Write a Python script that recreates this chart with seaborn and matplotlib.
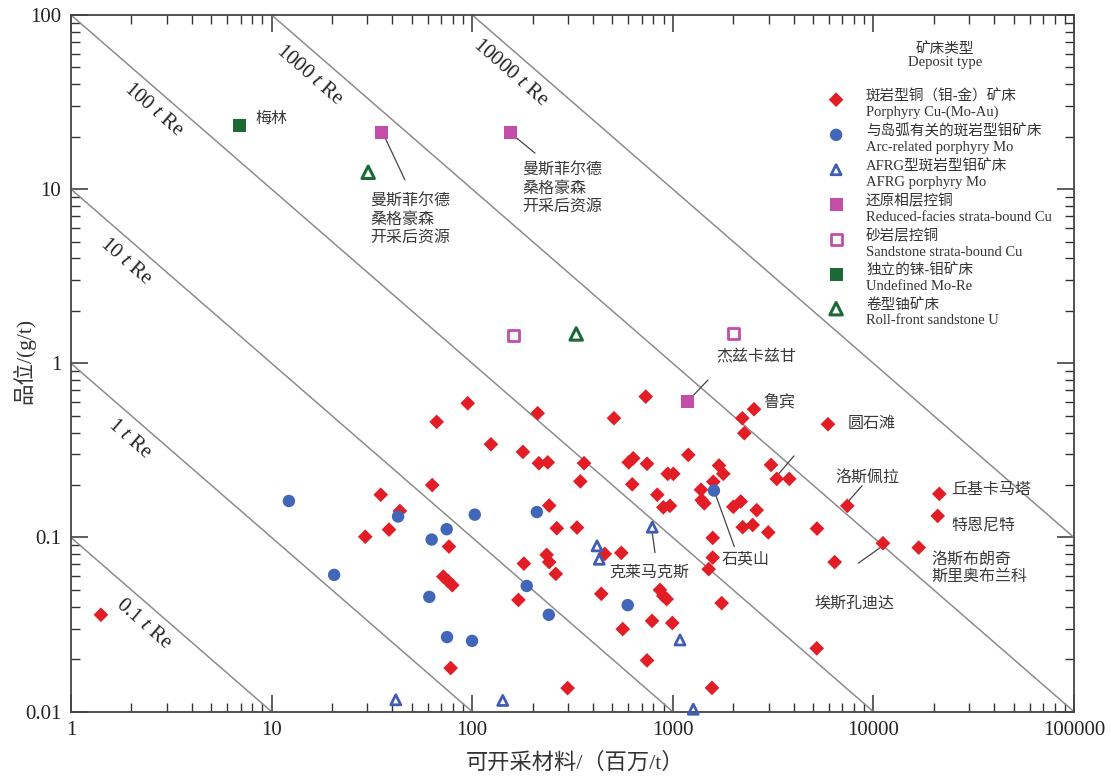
import numpy as np
import matplotlib
matplotlib.use("Agg")
import matplotlib.pyplot as plt
import matplotlib.ticker as mticker
import seaborn as sns

# ---------------- data (ore in Mt, grade in g/t Re) ----------------
cu_ore = [1.41, 66.5, 63.2, 35.0, 43.6, 38.5, 29.3, 76.6, 71.8, 75.7, 79.6, 78.1,
          95.0, 212, 509, 733, 2540, 2221, 2273, 124, 179, 215, 238, 361, 346,
          603, 635, 744, 1195, 628, 943, 1006, 1700, 1785, 1592, 3088, 3297, 3807,
          837, 897, 968, 1382, 1393, 1436, 2003, 2181, 2620, 2231, 2502, 2993,
          1581, 1581, 1510, 242, 264, 333, 458, 554, 181, 235, 242, 261, 170,
          440, 863, 897, 932, 563, 788, 994, 1753, 744, 299, 1568, 5938, 7413,
          21310, 20920, 5235, 11160, 16820, 6412, 5217]
cu_grade = [0.036, 0.461, 0.200, 0.176, 0.142, 0.111, 0.101, 0.0887, 0.0596, 0.0563, 0.0532, 0.0178,
            0.590, 0.517, 0.484, 0.644, 0.545, 0.484, 0.397, 0.343, 0.310, 0.267, 0.270, 0.267, 0.210,
            0.270, 0.285, 0.265, 0.298, 0.202, 0.232, 0.232, 0.259, 0.232, 0.209, 0.261, 0.217, 0.217,
            0.176, 0.149, 0.152, 0.188, 0.164, 0.157, 0.150, 0.161, 0.1435, 0.1146, 0.118, 0.107,
            0.0995, 0.0767, 0.0658, 0.1525, 0.113, 0.114, 0.0805, 0.0816, 0.0708, 0.0795, 0.0722, 0.0618, 0.0438,
            0.0475, 0.050, 0.0462, 0.0443, 0.0298, 0.0332, 0.0323, 0.0420, 0.0197, 0.01365, 0.0137, 0.447, 0.152,
            0.178, 0.133, 0.1125, 0.0927, 0.0875, 0.0722, 0.0231]

arc_ore = [12.2, 42.7, 74.6, 62.8, 20.5, 61.1, 74.9, 99.8, 103, 210, 187, 241, 596, 1604]
arc_grade = [0.162, 0.132, 0.1116, 0.0973, 0.061, 0.0456, 0.0268, 0.0255, 0.1353, 0.140, 0.0527, 0.036, 0.0409, 0.186]

afrg_ore = [41.6, 142, 1265, 790, 419, 430, 1086]
afrg_grade = [0.0117, 0.0116, 0.01033, 0.1146, 0.0895, 0.075, 0.0258]

red_ore = [35.4, 155, 1181]
red_grade = [21.1, 21.1, 0.603]

sand_ore = [160, 2003]
sand_grade = [1.44, 1.475]

undef_ore = [6.88]
undef_grade = [23.1]

rollu_ore = [30.3, 330]
rollu_grade = [12.5, 1.475]

tonnages = [0.1, 1, 10, 100, 1000, 10000]
tonnage_labels = ["0.1", "1", "10", "100", "1000", "10000"]
tonnage_label_pos = [(2.29, 0.0319), (1.97, 0.368), (1.86, 3.85), (2.59, 28.5), (15.5, 45.3), (155.6, 46.6)]

x_ticks = [1, 10, 100, 1000, 10000, 100000]
x_ticklabels = ["1", "10", "100", "1000", "10000", "100000"]
y_ticks = [0.01, 0.1, 1, 10, 100]
y_ticklabels = ["0.01", "0.1", "1", "10", "100"]

legend_title = "矿床类型\nDeposit type"
legend_labels = [
    "斑岩型铜（钼-金）矿床\nPorphyry Cu-(Mo-Au)",
    "与岛弧有关的斑岩型钼矿床\nArc-related porphyry Mo",
    "AFRG型斑岩型钼矿床\nAFRG porphyry Mo",
    "还原相层控铜\nReduced-facies strata-bound Cu",
    "砂岩层控铜\nSandstone strata-bound Cu",
    "独立的铼-钼矿床\nUndefined Mo-Re",
    "卷型铀矿床\nRoll-front sandstone U",
]

# deposit name annotations: text, (x, y), ha, va, leader line [(x1,y1),(x2,y2)] or None
annotations = [
    ("梅林", (8.27, 25.6), "left", "center", None),
    ("曼斯菲尔德\n桑格豪森\n开采后资源", (30.9, 9.5), "left", "top", [(36.8, 19.7), (46.2, 11.3)]),
    ("曼斯菲尔德\n桑格豪森\n开采后资源", (177, 14.3), "left", "top", [(163.5, 20.0), (205.6, 16.1)]),
    ("杰兹卡兹甘", (1642, 1.088), "left", "center", [(1232, 0.633), (1498, 0.803)]),
    ("鲁宾", (2816, 0.600), "left", "center", None),
    ("圆石滩", (7471, 0.449), "left", "center", None),
    ("", (0, 0), "left", "center", [(3270, 0.2228), (4018, 0.294)]),
    ("洛斯佩拉", (6436, 0.2228), "left", "center", [(7386, 0.158), (8770, 0.198)]),
    ("丘基卡马塔", (24550, 0.189), "left", "center", None),
    ("特恩尼特", (24550, 0.118), "left", "center", None),
    ("洛斯布朗奇\n斯里奥布兰科", (19530, 0.0669), "left", "center", None),
    ("埃斯孔迪达", (5074, 0.042), "left", "center", [(11000, 0.0887), (8408, 0.0712)]),
    ("石英山", (1753, 0.0754), "left", "center", [(1623, 0.180), (2026, 0.0887)]),
    ("克莱马克斯", (482.6, 0.0632), "left", "center", [(790, 0.1063), (815, 0.0819)]),
]

# ---------------- style ----------------
sns.set_style("ticks")
plt.rcParams["font.family"] = ["Liberation Serif", "Noto Sans CJK SC", "DejaVu Sans"]
plt.rcParams["mathtext.fontset"] = "custom"
plt.rcParams["mathtext.rm"] = "Liberation Serif"
plt.rcParams["mathtext.it"] = "Liberation Serif:italic"

TXT = "#3a3a3a"
RED = "#e31d25"
BLUE = "#4267b8"
TRI_BLUE = "#3f5db4"
PINK = "#c24ea8"
GREEN = "#1b6a36"
GRAY = "#8c8c8c"

fig = plt.figure(figsize=(11.11, 7.8), dpi=100)
ax = fig.add_axes([0.0639, 0.0876, 0.9028, 0.8932])
ax.set_xscale("log")
ax.set_yscale("log")
ax.set_xlim(1, 1e5)
ax.set_ylim(0.01, 100)

# iso-tonnage lines
xs = np.logspace(0, 5, 300)
for T, lab, (lx, ly) in zip(tonnages, tonnage_labels, tonnage_label_pos):
    ax.plot(xs, T / xs, color=GRAY, lw=1.1, zorder=1)
    ax.text(lx, ly, lab + r" $\mathit{t}$ Re", rotation=-41, rotation_mode="anchor",
            ha="center", va="center", fontsize=15, color="#222222",
            family=["Liberation Serif"])


def draw(x, y, marker, s, color, label, filled=True, lw=0.0):
    kw = dict(x=x, y=y, marker=marker, s=s, color=color, label=label, ax=ax,
              zorder=3, clip_on=False, legend=False)
    if filled:
        kw.update(edgecolor="none", linewidth=0)
    else:
        kw.update(facecolor="none", edgecolor=color, linewidth=lw)
    sns.scatterplot(**kw)


draw(cu_ore, cu_grade, "D", 56, RED, legend_labels[0])
draw(arc_ore, arc_grade, "o", 80, BLUE, legend_labels[1])
draw(afrg_ore, afrg_grade, "^", 52, TRI_BLUE, legend_labels[2], filled=False, lw=2.0)
draw(red_ore, red_grade, "s", 88, PINK, legend_labels[3])
draw(sand_ore, sand_grade, "s", 64, PINK, legend_labels[4], filled=False, lw=2.0)
draw(undef_ore, undef_grade, "s", 88, GREEN, legend_labels[5])
draw(rollu_ore, rollu_grade, "^", 80, GREEN, legend_labels[6], filled=False, lw=2.2)

# annotations
for text, (tx, ty), ha, va, leader in annotations:
    if leader is not None:
        (x1, y1), (x2, y2) = leader
        ax.plot([x1, x2], [y1, y2], color="#444444", lw=0.9, zorder=2)
    if text:
        ax.text(tx, ty, text, ha=ha, va=va, fontsize=11.5, color=TXT,
                family=["Noto Sans CJK SC"], linespacing=1.05, zorder=4)

# axes, ticks
ax.xaxis.set_major_locator(mticker.FixedLocator(x_ticks))
ax.xaxis.set_major_formatter(mticker.FixedFormatter(x_ticklabels))
ax.yaxis.set_major_locator(mticker.FixedLocator(y_ticks))
ax.yaxis.set_major_formatter(mticker.FixedFormatter(y_ticklabels))
ax.xaxis.set_minor_locator(mticker.LogLocator(base=10, subs=np.arange(2, 10)))
ax.yaxis.set_minor_locator(mticker.LogLocator(base=10, subs=np.arange(2, 10)))
ax.xaxis.set_minor_formatter(mticker.NullFormatter())
ax.yaxis.set_minor_formatter(mticker.NullFormatter())
ax.tick_params(which="major", direction="in", length=12, width=1.1, top=True, right=True,
               labelsize=15, pad=7, colors="#333333", labelcolor="#222222")
ax.tick_params(which="minor", direction="in", length=6.5, width=1.0, top=True, right=True,
               colors="#333333")
for sp in ax.spines.values():
    sp.set_linewidth(1.3)
    sp.set_color("#444444")
    sp.set_visible(True)

ax.set_xlabel("可开采材料/（百万/t）", fontsize=16, color="#333333")
ax.set_ylabel("品位/(g/t)", fontsize=15.5, color="#333333")
ax.xaxis.set_label_coords(0.5025, -0.058)
ax.yaxis.set_label_coords(-0.036, 0.503)

# legend (title drawn separately so its spacing matches the reference)
ax.text(0.8714, 0.961, legend_title, transform=ax.transAxes, ha="center", va="top",
        multialignment="center", fontsize=10.5, color="#333333", linespacing=1.0)
leg = ax.legend(loc="upper left", bbox_to_anchor=(0.741, 0.9124), frameon=False,
                fontsize=10.5, handlelength=1.2, handletextpad=1.45, labelspacing=0.38,
                borderpad=0.4, scatterpoints=1)
for t in leg.get_texts():
    t.set_color("#333333")
# lift the markers toward the Chinese line, as in the reference
for h in leg.legend_handles:
    off = np.asarray(h.get_offsets(), dtype=float).copy()
    off[:, 1] += 4.0
    h.set_offsets(off)

fig.savefig("out.png", dpi=100)
